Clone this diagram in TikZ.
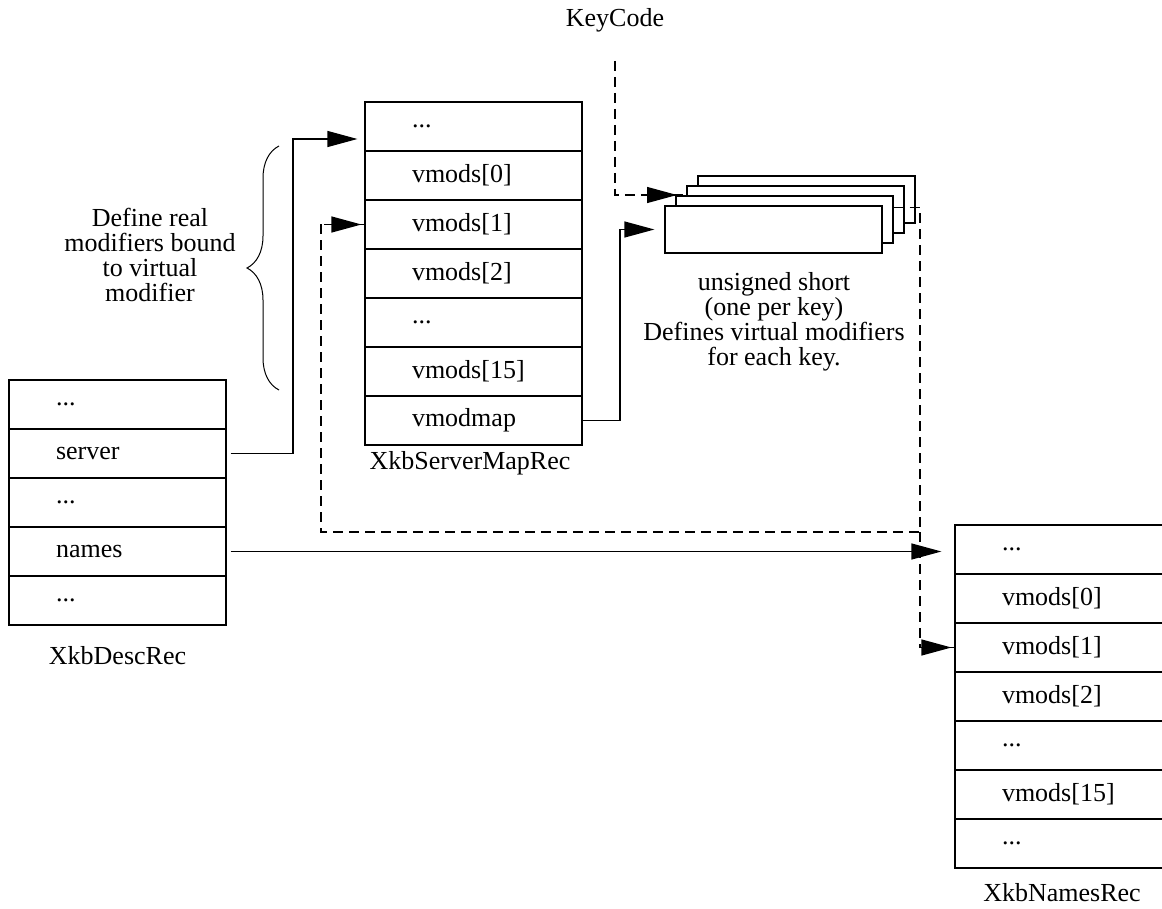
\documentclass[tikz,border=0pt]{standalone}
\usepackage{fontspec}
\setmainfont{Liberation Serif}
\usetikzlibrary{arrows.meta, decorations.pathreplacing, positioning}

\begin{document}
\begin{tikzpicture}[x=0.5pt, y=-0.5pt, font=\fontsize{13}{12.5}\selectfont,
field/.style={draw, line width=0.6pt, minimum height=24.5pt, text width=61.5pt, inner xsep=23.5pt, align=left},
card/.style={draw, line width=0.6pt, fill=white, minimum width=108.5pt, minimum height=23.5pt},
ptr/.style={line width=0.6pt, -{Triangle[length=15pt, width=8pt]}},
link/.style={line width=0.6pt, dash pattern=on 5pt off 3pt}]
\tikzstyle{note}=[align=center]
\def\fy{49}
\useasboundingbox (0,0) rectangle (1162,909);

%XkbDescRec
\node[field] (d0) at (117.5, 404.5)      {...};
\node[field] (d1) at (117.5, 404.5+1*\fy) {server};
\node[field] (d2) at (117.5, 404.5+2*\fy) {...};
\node[field] (d3) at (117.5, 404.5+3*\fy) {names};
\node[field] (d4) at (117.5, 404.5+4*\fy) {...};
\node at (117.5, 656) (desclbl) {XkbDescRec};

%XkbServerMapRec
\node[field] (smr0) at (473.5, 126.5)      {...};
\node[field] (smr1) at (473.5, 126.5+1*\fy) {vmods[0]};
\node[field] (smr2) at (473.5, 126.5+2*\fy) {vmods[1]};
\node[field] (smr3) at (473.5, 126.5+3*\fy) {vmods[2]};
\node[field] (smr4) at (473.5, 126.5+4*\fy) {...};
\node[field] (smr5) at (473.5, 126.5+5*\fy) {vmods[15]};
\node[field] (smr6) at (473.5, 126.5+6*\fy) {vmodmap};
\node at (470, 463) (smrlbl) {XkbServerMapRec};

%XkbNamesRec
\node[field] (nmr0) at (1063.5, 549.5)      {...};
\node[field] (nmr1) at (1063.5, 549.5+1*\fy) {vmods[0]};
\node[field] (nmr2) at (1063.5, 549.5+2*\fy) {vmods[1]};
\node[field] (nmr3) at (1063.5, 549.5+3*\fy) {vmods[2]};
\node[field] (nmr4) at (1063.5, 549.5+4*\fy) {...};
\node[field] (nmr5) at (1063.5, 549.5+5*\fy) {vmods[15]};
\node[field] (nmr6) at (1063.5, 549.5+6*\fy) {...};
\node at (1062, 893) (nmrlbl) {XkbNamesRec};

% per key vmodmap array
\foreach \i in {3,2,1,0}
  \node[card] (card\i) at (773.5+11*\i, 229.5-10*\i) {};
\node[note] (maptext) at (774, 322) {unsigned short\\(one per key)\\Defines virtual modifiers\\for each key.};

\node (keycode) at (615, 20) {KeyCode};

% brace
\draw[line width=0.5pt, decorate, decoration={brace, amplitude=16pt}] (279,390) -- (279,146);
\node[note] (bracetext) at (150, 255) {Define real\\modifiers bound\\to virtual\\modifier};

% pointers
\coordinate (srvup) at (293,139);
\draw[ptr, shorten <=2pt, shorten >=3.5pt] (d1.east) -| (srvup) -- (srvup -| smr0.west);
\draw[ptr, shorten <=2pt, shorten >=6.5pt] (d3.east) -- (d3.east -| nmr0.west);
\coordinate (mapup) at (620,229.5);
\draw[ptr, shorten >=5pt] (smr6.east) -| (mapup) -- (card0.west);

\coordinate (kcend) at (687,195);
\draw[link, shorten <=11pt] (keycode.south) |- (kcend);
\draw[ptr, shorten >=5pt] (650,195) -- (kcend);

\coordinate (bend) at (920,532);
\coordinate (ret) at (321,532);
\draw[link] ([yshift=6pt]card1.east) -| (bend) -- (ret) |- (smr2.west);
\draw[link] (bend) |- (nmr2.west);
\draw[ptr, shorten >=1.5pt] ([xshift=-20pt]smr2.west) -- (smr2.west);
\draw[ptr, shorten >=1.5pt] ([xshift=-16pt]nmr2.west) -- (nmr2.west);

\end{tikzpicture}
\end{document}
